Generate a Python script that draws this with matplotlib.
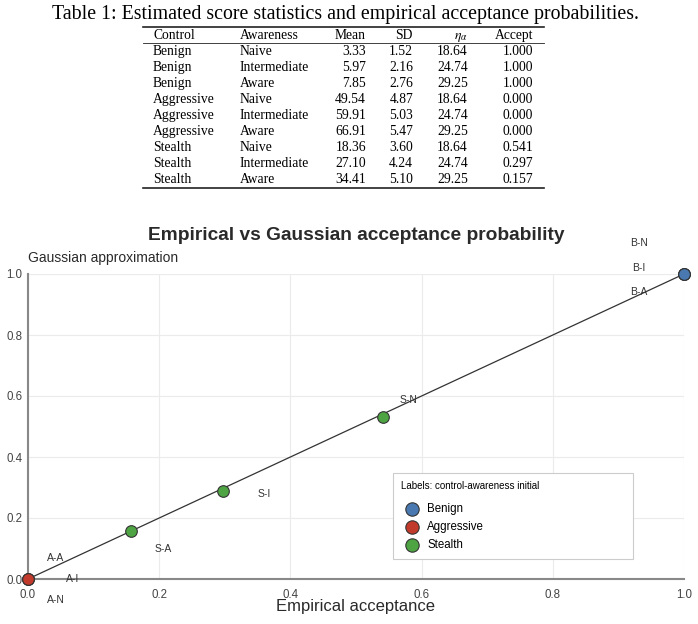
import matplotlib.pyplot as plt
from matplotlib.lines import Line2D

plt.rcParams['font.family'] = ['Liberation Sans', 'DejaVu Sans']
plt.rcParams['mathtext.fontset'] = 'stix'

# table data
controls = ['Benign', 'Benign', 'Benign', 'Aggressive', 'Aggressive', 'Aggressive',
            'Stealth', 'Stealth', 'Stealth']
awareness = ['Naive', 'Intermediate', 'Aware', 'Naive', 'Intermediate', 'Aware',
             'Naive', 'Intermediate', 'Aware']
means = [3.33, 5.97, 7.85, 49.54, 59.91, 66.91, 18.36, 27.10, 34.41]
sds = [1.52, 2.16, 2.76, 4.87, 5.03, 5.47, 3.60, 4.24, 5.10]
etas = [18.64, 24.74, 29.25, 18.64, 24.74, 29.25, 18.64, 24.74, 29.25]
accept = [1.000, 1.000, 1.000, 0.000, 0.000, 0.000, 0.541, 0.297, 0.157]
# gaussian approximation
gauss = [1.0, 1.0, 1.0, 0.0, 0.0, 0.0, 0.531, 0.289, 0.156]
point_labels = ['B-N', 'B-I', 'B-A', 'A-N', 'A-I', 'A-A', 'S-N', 'S-I', 'S-A']
groups = ['Benign', 'Aggressive', 'Stealth']
colors = {'Benign': '#4a78b0', 'Aggressive': '#c23a2b', 'Stealth': '#4ea443'}
# label offsets in pixels (dx, dy)
offsets = [(-45, 31), (-45, 6), (-45, -18), (28, -21), (45, 0), (28, 21),
           (26, 17), (41, -3), (32, -18)]

W, H = 698, 624
fig = plt.figure(figsize=(W / 100, H / 100), dpi=100)


def px(x, y):
    return x / W, 1 - y / H


#table
######################################################
serif = ['Liberation Serif', 'DejaVu Serif']
fig.text(*px(345, 14), 'Table 1: Estimated score statistics and empirical acceptance probabilities.',
         family=serif, fontsize=14.3, ha='center', va='center')
for y0, lw in [(27, 1.2), (43, 0.6), (188, 1.2)]:
    fig.add_artist(Line2D([143 / W, 544 / W], [1 - y0 / H] * 2, color='#222', lw=lw,
                          transform=fig.transFigure))
header_y = 39
cols = [(153, 'left', 'Control'), (240, 'left', 'Awareness'), (366, 'right', 'Mean'),
        (413, 'right', 'SD'), (468, 'right', r'$\eta_\alpha$'), (533, 'right', 'Accept')]
for x, ha, t in cols:
    fig.text(*px(x, header_y), t, family=serif, fontsize=9.8, ha=ha, va='baseline')
for i in range(len(controls)):
    y = 55 + i * 16
    vals = [controls[i], awareness[i], f'{means[i]:.2f}', f'{sds[i]:.2f}',
            f'{etas[i]:.2f}', f'{accept[i]:.3f}']
    for (x, ha, _), v in zip(cols, vals):
        fig.text(*px(x, y), v, family=serif, fontsize=9.8, ha=ha, va='baseline')

#scatter plot
######################################################
ax = fig.add_axes([28 / W, 1 - 579 / H, 656 / W, 305 / H])
ax.plot([0, 1], [0, 1], color='#333333', lw=0.9, zorder=2)
for g in groups:
    xs = [a for a, c in zip(accept, controls) if c == g]
    ys = [b for b, c in zip(gauss, controls) if c == g]
    ax.scatter(xs, ys, s=70, color=colors[g], edgecolor='#333333', linewidth=0.8,
               zorder=3, clip_on=False, label=g)
for a, b, lab, (dx, dy) in zip(accept, gauss, point_labels, offsets):
    ax.annotate(lab, (a, b), xytext=(dx, dy), textcoords='offset pixels',
                ha='center', va='center', fontsize=7.5, color='#333333',
                annotation_clip=False)

ax.set_xlim(0, 1)
ax.set_ylim(0, 1)
ax.set_xticks([0, 0.2, 0.4, 0.6, 0.8, 1.0])
ax.set_yticks([0, 0.2, 0.4, 0.6, 0.8, 1.0])
ax.grid(color='#ebebeb', lw=0.8)
ax.set_axisbelow(True)
for s in ['top', 'right']:
    ax.spines[s].set_visible(False)
for s in ['left', 'bottom']:
    ax.spines[s].set_color('#888888')
    ax.spines[s].set_linewidth(1.5)
ax.tick_params(length=0, labelsize=8.3, labelcolor='#444444')
ax.tick_params(axis='x', pad=7)
ax.tick_params(axis='y', pad=4)

fig.text(*px(356, 235), 'Empirical vs Gaussian acceptance probability',
         fontsize=13.8, fontweight='bold', color='#2a2a2a', ha='center', va='center')
fig.text(*px(28, 258), 'Gaussian approximation', fontsize=10, color='#2a2a2a',
         ha='left', va='center')
fig.text(*px(356, 607), 'Empirical acceptance', fontsize=12, color='#2a2a2a',
         ha='center', va='center')

leg = ax.legend(title='Labels: control-awareness initial\n', loc='upper left',
                bbox_to_anchor=(0.556, 0.062, 0.366, 0.286), mode='expand',
                borderaxespad=0, fontsize=8.3, title_fontsize=7, alignment='left',
                fancybox=False, edgecolor='#cccccc', framealpha=1, borderpad=0.7,
                labelspacing=0.5, handletextpad=0.3, markerscale=1.15,
                scatterpoints=1)
leg.get_title().set_linespacing(0.55)
leg.get_frame().set_linewidth(0.8)

fig.savefig('out.png', dpi=100)
